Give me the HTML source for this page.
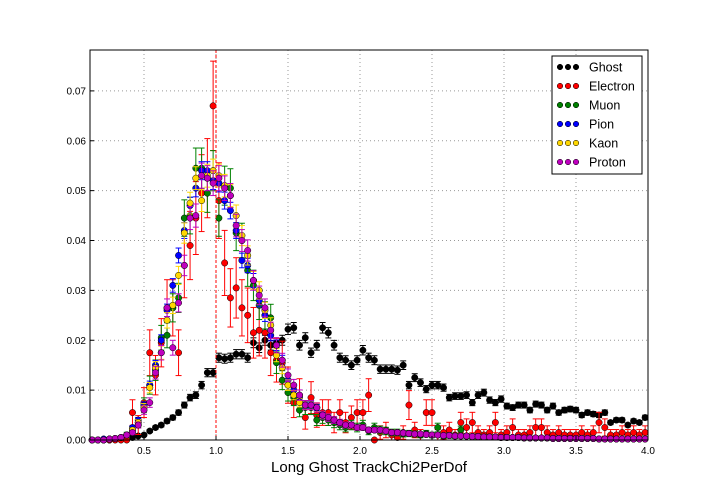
<!DOCTYPE html>
<html><head><meta charset="utf-8">
<style>
body{margin:0;background:#fff;}
svg{display:block;font-family:"Liberation Sans",sans-serif;}
</style></head>
<body>
<svg id="chart" width="720" height="504" viewBox="0 0 720 504">
<rect x="0" y="0" width="720" height="504" fill="#fff"/>
<g id="grid"></g>
<g id="marks"></g>
<rect x="90" y="50" width="558" height="390" fill="none" stroke="#000" stroke-width="1"/>
<g id="ticks"></g>
<text x="369" y="472" text-anchor="middle" font-size="15">Long Ghost TrackChi2PerDof</text>
<g id="legend"></g>
</svg>
<script>
const xTicks=[0.5,1.0,1.5,2.0,2.5,3.0,3.5,4.0];
const xTickLabels=["0.5","1.0","1.5","2.0","2.5","3.0","3.5","4.0"];
const yTicks=[0,0.01,0.02,0.03,0.04,0.05,0.06,0.07];
const yTickLabels=["0.00","0.01","0.02","0.03","0.04","0.05","0.06","0.07"];
const seriesNames=["Ghost","Electron","Muon","Pion","Kaon","Proton"];
const tail=[0.007,0.007,0.0065,0.005,0.0045,0.004,0.0035,0.003,0.003,0.0025,
0.0025,0.002,0.002,0.002,0.0018,0.0015,0.0015,0.0014,0.0013,0.0012,
0.0012,0.0011,0.001,0.001,0.0009,0.0009,0.0008,0.0008,0.0008,0.0007,
0.0007,0.0006,0.0006,0.0006,0.0005,0.0005,0.0005,0.0005,0.0004,0.0004,
0.0004,0.0004,0.0004,0.0003,0.0003,0.0003,0.0003,0.0003,0.0003,0.0003,
0.0003,0.0002,0.0002,0.0002,0.0002,0.0002,0.0002,0.0002,0.0002,0.0002];
const ghost=[0,0,0,0,0.0002,0.0005,0.0008,
0.0005,0.0008,0.001,0.0018,0.0025,0.003,0.0038,0.0045,0.0055,0.007,
0.0085,0.009,0.011,0.0135,0.0135,0.0165,0.0163,0.0165,0.0172,0.0172,
0.0165,0.0195,0.0185,0.02,0.019,0.0195,0.02,0.0222,0.0225,0.019,
0.0205,0.0175,0.019,0.0225,0.0215,0.019,0.0165,0.016,0.015,0.016,
0.018,0.0165,0.016,0.0142,0.0142,0.0142,0.014,0.015,0.011,0.0125,
0.0115,0.0102,0.011,0.011,0.0105,0.0085,0.0088,0.0088,0.009,0.0075,
0.009,0.0095,0.008,0.0075,0.0082,0.0068,0.0065,0.007,0.007,0.006,
0.0072,0.007,0.006,0.0068,0.0055,0.006,0.0062,0.006,0.005,0.0055,
0.0052,0.005,0.0055,0.0035,0.004,0.004,0.003,0.0038,0.0035,0.0045];
const electron=[0,0,0,0,0,0,0,
0.0055,0.003,0.0075,0.0175,0.013,0.0195,0.0265,0.0265,0.0175,0.035,
0.039,0.0445,0.0495,0.0525,0.067,0.048,0.0355,0.0285,0.0305,0.0265,
0.025,0.0215,0.022,0.0215,0.0175,0.016,0.0155,0.011,0.0075,0.009,
0.0045,0.0085,0.005,0.0055,0.0055,0.0035,0.0055,0.0035,0.0045,0.0055,
0.0055,0.009,0,0.0015,0.002,0.001,0.0005,0.0015,0.007,0.002,
0.001,0.0055,0.0055,0.001,0.0015,0.002,0.001,0.0035,0.0025,0.0035,
0.0015,0.001,0.0015,0.0035,0.001,0.0015,0.0025,0.001,0.001,0.0015,
0.0025,0.0025,0.0015,0.001,0.0015,0.001,0.001,0.001,0.0015,0.001,
0.0015,0.0035,0.0025,0.001,0.001,0.0015,0.001,0.0015,0.001,0.0015];
const muon=[0,0,0,0.0002,0.0003,0.0005,0.001,
0.002,0.0035,0.007,0.011,0.014,0.0205,0.021,0.0265,0.0285,0.0445,
0.045,0.0545,0.0545,0.0495,0.054,0.0445,0.051,0.0505,0.0415,0.04,
0.034,0.031,0.027,0.025,0.0245,0.0155,0.012,0.0095,0.0085,0.006,
0.0065,0.0065,0.004,0.0045,0.004,0.0035,0.003,0.0025,0.003,0.0025,
0.003,0.0018,0.0025,0.002,0.0018,0.0015,0.0015,0.0012,0.0013,0.0012,
0.001,0.0013,0.001,0.0025,0.0008,0.0009,0.0008,0.002,0.0008,0.0007,
0.0007,0.0006,0.0006,0.0006,0.0005,0.0005,0.0005,0.0005,0.0004,0.0004,
0.0004,0.0004,0.0004,0.0003,0.0003,0.0003,0.0003,0.0003,0.0003,0.0003,
0.0003,0.0002,0.0002,0.0002,0.0002,0.0002,0.0002,0.0002,0.0002,0.0002];
const pion=[0,0,0.0002,0.0002,0.0003,0.0005,0.001,
0.0025,0.004,0.007,0.011,0.015,0.02,0.026,0.031,0.037,0.042,
0.047,0.0505,0.054,0.054,0.052,0.0515,0.048,0.046,0.042,0.036,
0.035,0.032,0.028,0.025,0.021,0.019,0.016,0.012,0.01,0.0085].concat(tail);
const kaon=[0,0,0,0.0002,0.0003,0.0005,0.001,
0.002,0.0035,0.0065,0.0105,0.0145,0.0175,0.024,0.027,0.033,0.0415,
0.0475,0.0525,0.048,0.053,0.054,0.053,0.051,0.049,0.045,0.041,
0.037,0.032,0.03,0.026,0.023,0.017,0.0145,0.011,0.009,0.0075].concat(tail);
const proton=[0,0,0,0.0002,0.0003,0.0005,0.001,
0.0015,0.003,0.006,0.0075,0.0135,0.0175,0.0265,0.0185,0.0275,0.035,
0.0445,0.045,0.053,0.0525,0.0515,0.0525,0.0505,0.049,0.043,0.04,
0.038,0.032,0.029,0.0265,0.022,0.019,0.016,0.013,0.011,0.009].concat(tail);
const allSeries=[ghost,electron,muon,pion,kaon,proton];
const colors=["#000000","#ff0000","#008000","#0000ff","#ffd700","#bf00bf"];
const errScale=[0.00005,0.0012,0.0003,0.00006,0.0001,0.00012];

const X0=0.125,X1=4.0,Y0=0,Y1=0.0782;
const PL=90,PR=648,PT=50,PB=440;
function xs(v){return PL+(v-X0)/(X1-X0)*(PR-PL);}
function ys(v){return PB-(v-Y0)/(Y1-Y0)*(PB-PT);}
const NS="http://www.w3.org/2000/svg";
function mk(tag,attrs,parent){const e=document.createElementNS(NS,tag);for(const k in attrs)e.setAttribute(k,attrs[k]);parent.appendChild(e);return e;}
const grid=document.getElementById('grid'),ticks=document.getElementById('ticks'),marks=document.getElementById('marks'),legend=document.getElementById('legend');

xTicks.forEach((t,i)=>{
 const x=xs(t);
 if(t<X1){const g=mk('line',{x1:x,x2:x,y1:PT,y2:PB,stroke:'#999','stroke-dasharray':'1,3'},grid);
 
 }
 const a=mk('line',{x1:x,x2:x,y1:PB,y2:PB-4,stroke:'#000'},ticks);
 
 
 const l=mk('text',{x:x,y:PB+14,'text-anchor':'middle','font-size':'10'},ticks);
 l.textContent=xTickLabels[i];
 
 
});
yTicks.forEach((t,i)=>{
 const y=ys(t);
 if(t>0){const g=mk('line',{x1:PL,x2:PR,y1:y,y2:y,stroke:'#999','stroke-dasharray':'1,3'},grid);
 
 }
 const a=mk('line',{x1:PL,x2:PL+4,y1:y,y2:y,stroke:'#000'},ticks);
 
 
 const l=mk('text',{x:PL-4,y:y+3.5,'text-anchor':'end','font-size':'10'},ticks);
 l.textContent=yTickLabels[i];
 
 
});

allSeries.forEach((arr,s)=>{
 const g=mk('g',{},marks);
 
 
 const c=colors[s];
 arr.forEach((v,i)=>{
  const xv=0.14+0.04*i;
  if(xv>X1)return;
  const x=xs(xv),y=ys(v);
  const e=Math.sqrt(v*errScale[s]);
  const y1=ys(v+e),y2=ys(Math.max(0,v-e));
  mk('line',{x1:x,x2:x,y1:y1,y2:y2,stroke:c,'stroke-width':1},g);
  mk('line',{x1:x-3,x2:x+3,y1:y1,y2:y1,stroke:c},g);
  mk('line',{x1:x-3,x2:x+3,y1:y2,y2:y2,stroke:c},g);
  mk('line',{x1:xs(xv-0.02),x2:xs(xv+0.02),y1:y,y2:y,stroke:c},g);
  const p=mk('circle',{cx:x,cy:y,r:3.2,fill:c,stroke:'#000','stroke-width':0.5},g);
  
  
 });
});
const vl=mk('line',{x1:xs(1.0),x2:xs(1.0),y1:PT,y2:PB,stroke:'#ff0000','stroke-dasharray':'3,2','stroke-width':1},marks);



const lb=mk('rect',{x:552,y:56,width:90,height:118,fill:'#fff',stroke:'#000'},legend);


seriesNames.forEach((n,i)=>{
 const y=67+i*19;
 const g=mk('g',{},legend);
 
 
 [560,568,576].forEach(x=>mk('circle',{cx:x,cy:y,r:2.8,fill:colors[i],stroke:'#000','stroke-width':0.5},g));
 const t=mk('text',{x:589,y:y+4.5,'font-size':'12.5'},g);
 t.textContent=n;
 
 
});
</script>
</body></html>
